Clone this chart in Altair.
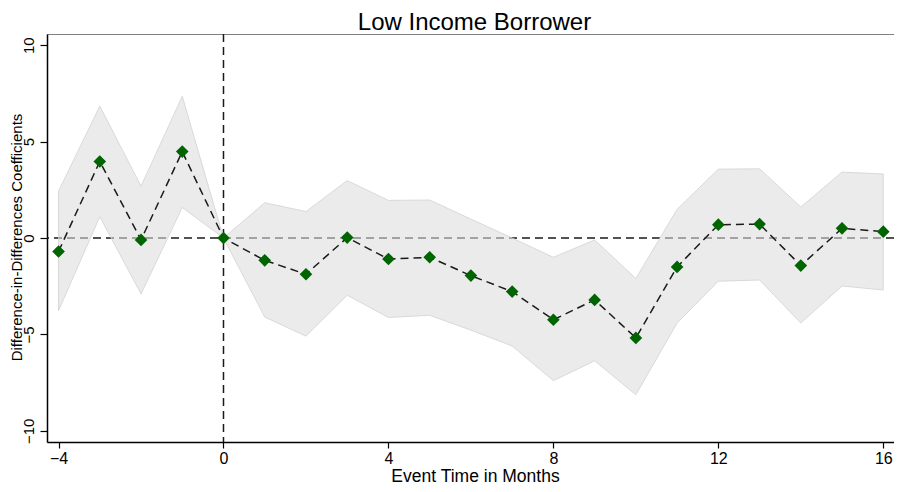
import altair as alt
import pandas as pd

# event time (months) and estimated coefficients with 95% band
months = list(range(-4, 17))
coef = [-0.70, 3.97, -0.10, 4.48, 0.00, -1.16, -1.88, 0.02, -1.09, -1.00,
        -1.95, -2.78, -4.24, -3.21, -5.18, -1.50, 0.69, 0.72, -1.43, 0.50, 0.33]
upper = [2.43, 6.84, 2.69, 7.35, 0.00, 1.83, 1.37, 2.98, 1.95, 1.97,
         0.98, 0.00, -1.00, -0.10, -2.10, 1.49, 3.57, 3.59, 1.61, 3.42, 3.32]
lower = [-3.77, 1.10, -2.90, 1.58, 0.00, -4.10, -5.09, -2.97, -4.12, -4.01,
         -4.78, -5.60, -7.40, -6.37, -8.13, -4.41, -2.24, -2.18, -4.41, -2.49, -2.70]
x_ticks = [-4, 0, 4, 8, 12, 16]
y_ticks = [-10, -5, 0, 5, 10]

df = pd.DataFrame({'month': months, 'coef': coef, 'upper': upper, 'lower': lower})

FONT = 'Liberation Sans'
x_scale = alt.Scale(domain=[-4.28, 16.26], nice=False, zero=False)
y_scale = alt.Scale(domain=[-10.58, 10.58], nice=False, zero=False)

x_enc = alt.X('month:Q', scale=x_scale, title='Event Time in Months',
              axis=alt.Axis(values=x_ticks, grid=False, tickSize=6, labelPadding=2,
                            labelFontSize=16, titleFontSize=17.5,
                            titleY=39, titleBaseline='alphabetic', titleX=428))
y_enc = alt.Y('coef:Q', scale=y_scale, title='Difference-in-Differences Coefficients',
              axis=alt.Axis(values=y_ticks, grid=False, tickSize=7, labelAngle=270,
                            labelAlign='center', labelBaseline='alphabetic', labelPadding=6.5,
                            labelFontSize=15, titleFontSize=15,
                            titleX=-25.2, titleY=203, titleAngle=270, titleAlign='center',
                            titleBaseline='alphabetic'))

zero = alt.Chart(pd.DataFrame({'y': [0]})).mark_rule(
    color='#1a1a1a', strokeWidth=1.5, strokeDash=[8, 5]
).encode(y=alt.Y('y:Q', scale=y_scale))

vline = alt.Chart(pd.DataFrame({'x': [0]})).mark_rule(
    color='#1a1a1a', strokeWidth=1.5, strokeDash=[8, 5]
).encode(x=alt.X('x:Q', scale=x_scale))

band = alt.Chart(df).mark_area(
    color='#dddddd', fillOpacity=0.58, stroke='#d2d2d2', strokeWidth=1, strokeOpacity=0.8
).encode(x=x_enc, y=alt.Y('lower:Q', scale=y_scale), y2='upper:Q')

line = alt.Chart(df).mark_line(
    color='#1a1a1a', strokeWidth=1.5, strokeDash=[8, 5]
).encode(x=x_enc, y=y_enc)

points = alt.Chart(df).mark_point(
    shape='diamond', filled=True, color='#006400', size=160, opacity=1
).encode(x=x_enc, y=y_enc)

chart = alt.layer(zero, vline, band, line, points).properties(
    width=847,
    height=408,
    autosize=alt.AutoSizeParams(type='none'),
    padding={'left': 39, 'top': 26, 'right': 0, 'bottom': 42},
    title=alt.TitleParams('Low Income Borrower', fontSize=24, font=FONT,
                          fontWeight='normal', color='#000', offset=0, dx=4, dy=1.5),
    background='white',
).configure_axis(
    labelFont=FONT, titleFont=FONT,
    titleFontWeight='normal', labelColor='#000', titleColor='#000',
    domainColor='#000', domainWidth=1.5, tickColor='#000', tickWidth=1.2,
).configure_view(
    stroke='#808080', strokeWidth=1,
)

chart.save("out.html", embed_options={"renderer": "svg", "actions": False})
